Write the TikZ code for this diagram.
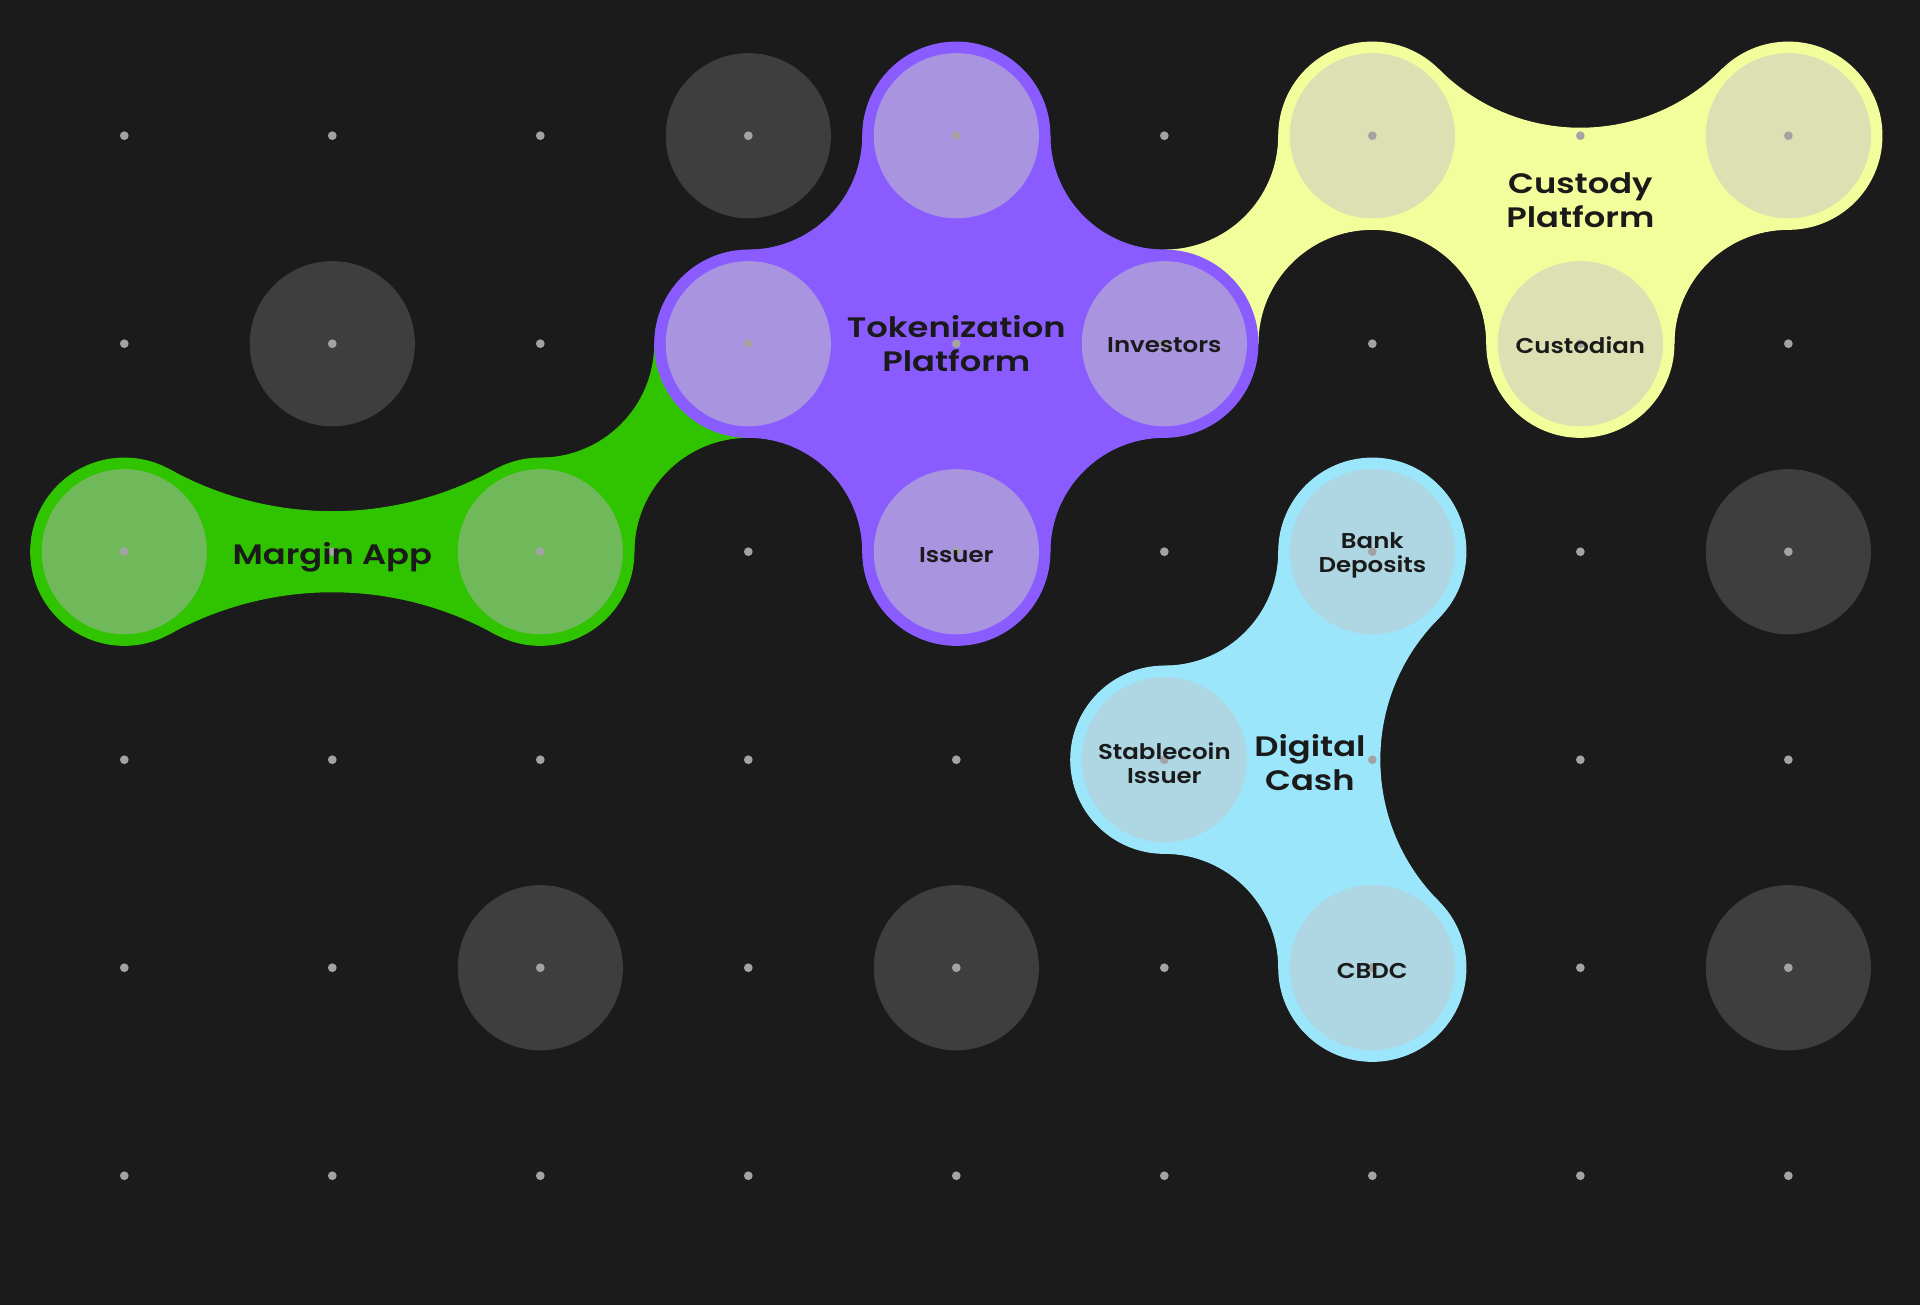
\documentclass[tikz,border=0pt]{standalone}
\usepackage{fontspec}
\usetikzlibrary{calc}
\IfFontExistsTF{Poppins SemiBold}{%
  \newfontfamily\wfont[FakeStretch=1.2]{Poppins SemiBold}%
  \newfontfamily\lfont[FakeStretch=1.14]{Poppins SemiBold}}{%
  \newfontfamily\wfont[FakeStretch=1.2,FakeBold=1]{Poppins}%
  \newfontfamily\lfont[FakeStretch=1.14,FakeBold=1]{Poppins}}
\definecolor{bgc}{HTML}{1B1B1B}
\definecolor{darkc}{HTML}{3E3E3E}
\definecolor{dotc}{HTML}{A3A3A3}
\definecolor{ink}{HTML}{1A1A1A}
\definecolor{purc}{HTML}{8A5CFF}
\definecolor{puri}{HTML}{A994E0}
\definecolor{grnc}{HTML}{30C400}
\definecolor{grni}{HTML}{70B95A}
\definecolor{yelc}{HTML}{F2FE9B}
\definecolor{yeli}{HTML}{DCE0B2}
\definecolor{bluc}{HTML}{9CE6FB}
\definecolor{blui}{HTML}{AED6E3}
\tikzset{
  blob/.style={fill=#1, draw=#1, line width=0.3pt},
  titletext/.style={font=\wfont\fontsize{8}{9.7}\selectfont, align=center, text=ink, inner sep=0pt},
  nodetext/.style={font=\lfont\fontsize{6.1}{7.0}\selectfont, align=center, text=ink, inner sep=0pt, yshift=-0.035cm},
}
\begin{document}
\begin{tikzpicture}[x=2.08cm,y=2.08cm]
\def\rO{0.45}\def\rI{0.397}\def\fS{0.55}\def\fB{0.9642}
\fill[bgc] (-0.5976,0.6524) rectangle (8.6330,-5.6216);
\useasboundingbox (-0.5976,0.6524) rectangle (8.6330,-5.6216);
% dark circles
\foreach \p in {(3,0),(1,-1),(8,-2),(2,-4),(4,-4),(8,-4)}
  \fill[darkc] \p circle[radius=\rI];
% yellow blob
\foreach \p in {(6,0),(8,0),(7,-1)} \fill[blob=yelc] \p circle[radius=\rO];
\fill[blob=yelc] (6,0) -- ($(7,1)+(225:\fB)$) arc[start angle=225,end angle=315,radius=\fB] -- (8,0) -- cycle;
\fill[blob=yelc] (6,0) -- (7,0) -- (7,-1) -- (6+\fS,-1) arc[start angle=0,end angle=90,radius=\fS] -- cycle;
\fill[blob=yelc] (8,0) -- (7,0) -- (7,-1) -- (8-\fS,-1) arc[start angle=180,end angle=90,radius=\fS] -- cycle;
\fill[blob=yelc] (5,-1) -- (5,-\fS) arc[start angle=270,end angle=360,radius=\fS] -- (6,0) -- (6,-1+\fS) arc[start angle=90,end angle=180,radius=\fS] -- cycle;
% green blob
\foreach \p in {(0,-2),(2,-2)} \fill[blob=grnc] \p circle[radius=\rO];
\fill[blob=grnc] (0,-2) -- ($(1,-0.1887)+(241.1:1.619)$) arc[start angle=241.1,end angle=298.9,radius=1.619] -- (2,-2) -- ($(1,-3.8113)+(61.1:1.619)$) arc[start angle=61.1,end angle=118.9,radius=1.619] -- cycle;
\fill[blob=grnc] (2,-2) -- (2,-1-\fS) arc[start angle=270,end angle=360,radius=\fS] -- (3,-1) -- (3,-2+\fS) arc[start angle=90,end angle=180,radius=\fS] -- cycle;
% blue blob
\foreach \p in {(6,-2),(5,-3),(6,-4)} \fill[blob=bluc] \p circle[radius=\rO];
\fill[blob=bluc] (6,-2) -- (5+\fS,-2) arc[start angle=0,end angle=-90,radius=\fS] -- (5,-3) -- (6,-3) -- cycle;
\fill[blob=bluc] (5,-3) -- (5,-4+\fS) arc[start angle=90,end angle=0,radius=\fS] -- (6,-4) -- (6,-3) -- cycle;
\fill[blob=bluc] (6,-2) -- ($(7,-3)+(135:\fB)$) arc[start angle=135,end angle=225,radius=\fB] -- (6,-4) -- cycle;
% purple blob
\foreach \p in {(4,0),(3,-1),(5,-1),(4,-2)} \fill[blob=purc] \p circle[radius=\rO];
\fill[blob=purc] (4,0) -- (3+\fS,0) arc[start angle=0,end angle=-90,radius=\fS] -- (3,-1) -- (4,-1) -- cycle;
\fill[blob=purc] (4,0) -- (5-\fS,0) arc[start angle=180,end angle=270,radius=\fS] -- (5,-1) -- (4,-1) -- cycle;
\fill[blob=purc] (3,-1) -- (3,-2+\fS) arc[start angle=90,end angle=0,radius=\fS] -- (4,-2) -- (4,-1) -- cycle;
\fill[blob=purc] (5,-1) -- (5,-2+\fS) arc[start angle=90,end angle=180,radius=\fS] -- (4,-2) -- (4,-1) -- cycle;
% inner circles
\foreach \p in {(4,0),(3,-1),(5,-1),(4,-2)} \fill[puri] \p circle[radius=\rI];
\foreach \p in {(0,-2),(2,-2)} \fill[grni] \p circle[radius=\rI];
\foreach \p in {(6,0),(8,0),(7,-1)} \fill[yeli] \p circle[radius=\rI];
\foreach \p in {(6,-2),(5,-3),(6,-4)} \fill[blui] \p circle[radius=\rI];
% grid dots
\foreach \i in {0,...,8} \foreach \j in {0,...,5}
  \fill[dotc] (\i,-\j) circle[radius=0.021];
% texts
\node[titletext, yshift=-0.06cm] (margin) at (1,-2) {Margin App};
\node[titletext] (token) at (4,-1) {Tokenization\\Platform};
\node[nodetext, yshift=0.025cm] (investors) at (5,-1) {Investors};
\node[nodetext] (issuer) at (4,-2) {Issuer};
\node[titletext] (custody) at (7,-0.31) {Custody\\Platform};
\node[nodetext, yshift=0.025cm] (custodian) at (7,-1) {Custodian};
\node[nodetext] (bank) at (6,-2) {Bank\\Deposits};
\node[nodetext] (stable) at (5,-3) {Stablecoin\\Issuer};
\node[titletext, yshift=-0.025cm] (digital) at (5.70,-3) {Digital\\Cash};
\node[nodetext] (cbdc) at (6,-4) {CBDC};
\end{tikzpicture}
\end{document}
